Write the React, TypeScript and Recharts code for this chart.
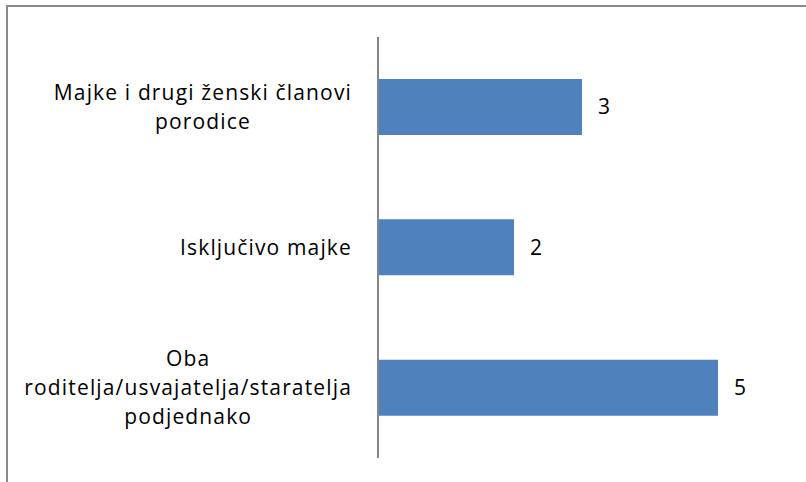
import React from 'react';
import { BarChart, Bar, XAxis, YAxis, LabelList } from 'recharts';

// categories, top to bottom
const categories = [
  'Majke i drugi ženski članovi porodice',
  'Isključivo majke',
  'Oba roditelja/usvajatelja/staratelja podjednako',
];
// how the labels wrap in the original
const categoryLines = [
  ['Majke i drugi ženski članovi', 'porodice'],
  ['Isključivo majke'],
  ['Oba', 'roditelja/usvajatelja/staratelja', 'podjednako'],
];
const values = [3, 2, 5];

const data = categories.map((name, i) => ({ name, value: values[i] }));

const FONT = '"Open Sans", sans-serif';
const FONT_SIZE = 21;
const SPACING = 1.15;
const LINE_H = 29;

let ctx: CanvasRenderingContext2D | null = null;
const textWidth = (s: string) => {
  if (!ctx) ctx = document.createElement('canvas').getContext('2d');
  if (!ctx) return s.length * 10;
  ctx.font = `${FONT_SIZE}px "Open Sans"`;
  return ctx.measureText(s).width + SPACING * s.length;
};

const CategoryTick = (props: any) => {
  const { x, y, payload } = props;
  const idx = categories.indexOf(payload.value);
  const lines = categoryLines[idx] || [payload.value];
  const blockW = Math.max(...lines.map(textWidth));
  const right = x - 18;
  const cx = right - blockW / 2;
  const top = y - ((lines.length - 1) * LINE_H) / 2;
  return (
    <g>
      {lines.map((l, i) => (
        <text
          key={i}
          x={cx}
          y={top + i * LINE_H}
          dy="0.35em"
          textAnchor="middle"
          fontFamily={FONT}
          fontSize={FONT_SIZE}
          letterSpacing={SPACING}
          fill="#000"
        >
          {l}
        </text>
      ))}
    </g>
  );
};

const App: React.FC = () => {
  return (
    <div style={{ position: 'absolute', left: 0, top: 0, width: 806, height: 482, background: '#fff', overflow: 'hidden' }}>
      {/* frame of the original chart area */}
      <div
        style={{
          position: 'absolute',
          left: 6,
          top: 5,
          width: 820,
          height: 500,
          borderTop: '2px solid #898989',
          borderLeft: '2px solid #898989',
        }}
      />
      <div style={{ position: 'absolute', left: 0, top: 0 }}>
        <BarChart
          width={806}
          height={482}
          data={data}
          layout="vertical"
          margin={{ top: 37, right: 88, bottom: 24, left: 0 }}
        >
          <XAxis type="number" domain={[0, 5]} hide />
          <YAxis
            type="category"
            dataKey="name"
            width={378}
            axisLine={{ stroke: '#868686', strokeWidth: 2 }}
            tickLine={false}
            tick={<CategoryTick />}
            interval={0}
          />
          <Bar dataKey="value" fill="#4F81BD" barSize={56} isAnimationActive={false}>
            <LabelList
              dataKey="value"
              position="right"
              offset={16}
              fill="#000"
              fontFamily={FONT}
              fontSize={FONT_SIZE}
            />
          </Bar>
        </BarChart>
      </div>
    </div>
  );
};

export default App;
